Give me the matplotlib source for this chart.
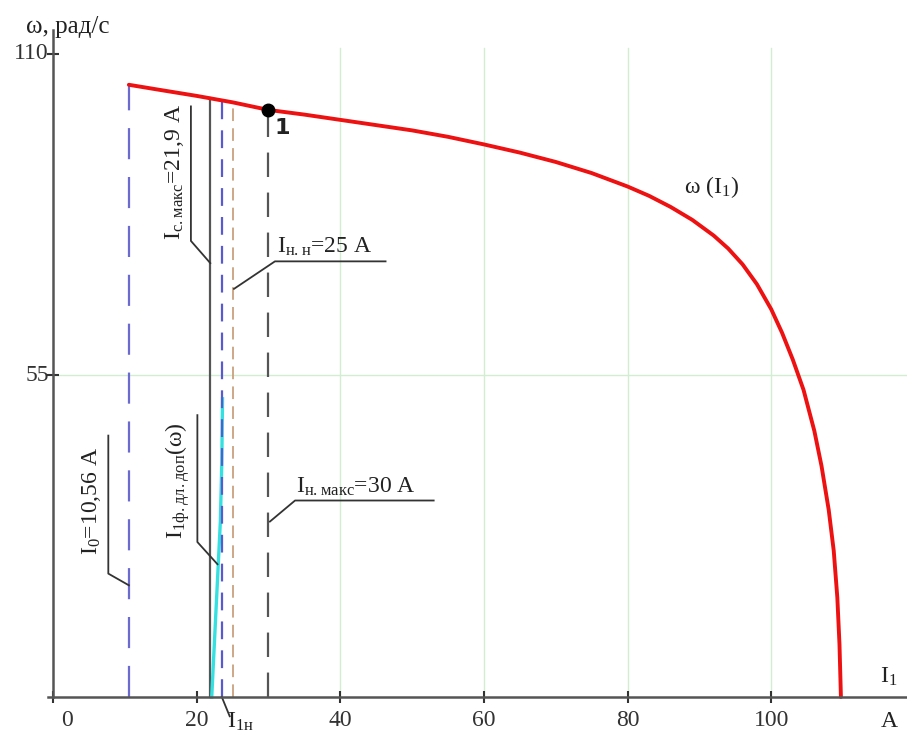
import numpy as np
import matplotlib
matplotlib.use("Agg")
import matplotlib.pyplot as plt

plt.rcParams['font.family'] = ['Liberation Serif', 'DejaVu Serif']
plt.rcParams['mathtext.fontset'] = 'custom'
plt.rcParams['mathtext.rm'] = 'Liberation Serif'

# omega(I1) curve
curve_i = [10.56, 15, 20, 25, 30, 35, 40, 45, 50, 55, 60, 65, 70, 75, 80, 83, 86, 89, 92, 94,
           96, 98, 100, 101.5, 103, 104.5, 106, 107, 108, 108.7, 109.2, 109.5, 109.7]
curve_w = [104.7, 103.8, 102.8, 101.7, 100.4, 99.6, 98.7, 97.8, 96.9, 95.8, 94.5, 93.1, 91.5, 89.6, 87.3, 85.7, 83.8, 81.6, 78.9, 76.7,
           74.0, 70.6, 66.3, 62.3, 57.7, 52.5, 45.5, 39.5, 32.0, 25.0, 17.0, 9.0, 0.0]

# permissible phase current curve (cyan)
cyan_i = [22.1, 22.5, 22.9, 23.3, 23.5, 23.6]
cyan_w = [0, 10, 20, 30, 40, 51]

# characteristic currents and where their lines meet the curve
i0, i0_top = 10.56, 104.7
ic, ic_top = 21.9, 102.5
i1n, i1n_top = 23.5, 102.1
inn, inn_top = 25.0, 102.0
inmax, inmax_top = 30.0, 100.4

xticks = [0, 20, 40, 60, 80, 100]
yticks = [55, 110]

fig = plt.figure(figsize=(9.07, 7.31), dpi=100)
ax = fig.add_axes([0, 0, 1, 1])
ax.set_xlim(-7.38, 118.9)
ax.set_ylim(-5.82, 119.2)

for s in ['top', 'right']:
    ax.spines[s].set_visible(False)
ax.spines['left'].set_position(('data', 0))
ax.spines['bottom'].set_position(('data', 0))
ax.spines['left'].set_bounds(0, 114.1)
ax.spines['bottom'].set_bounds(-0.7, 118.9)
for s in ['left', 'bottom']:
    ax.spines[s].set_color('#555555')
    ax.spines[s].set_linewidth(1.8)

ax.set_xticks(xticks)
ax.set_yticks(yticks)
ax.set_xticklabels([])
ax.set_yticklabels([])
ax.tick_params(direction='inout', length=9, width=1.5, color='#333333')
for x in xticks:
    ax.text(x + (2 if x == 0 else 0), -2.3, str(x), ha='center', va='top', fontsize=17, color='#333333')
ax.text(-0.6, 110, '110', ha='right', va='center', fontsize=17, color='#333333')
ax.text(-0.6, 55, '55', ha='right', va='center', fontsize=17, color='#333333')

# grid
for x in [40, 60, 80, 100]:
    ax.plot([x, x], [0, 111], color='#d2eed2', lw=1.0, zorder=0)
ax.plot([0, 118.9], [55, 55], color='#d2eed2', lw=1.0, zorder=0)

# vertical marker lines
ax.plot([i0, i0], [0, i0_top], color='#6a6ad0', lw=1.6, dashes=(14, 8))
ax.plot([ic, ic], [0, ic_top], color='#555555', lw=1.6)
ax.plot(cyan_i, cyan_w, color='#35e0e0', lw=2.4)
ax.plot([i1n, i1n], [0, i1n_top], color='#5a5ad0', lw=1.6, dashes=(8, 5))
ax.plot([inn, inn], [0, inn_top], color='#c9a17e', lw=1.3, dashes=(7, 4))
ax.plot([inmax, inmax], [0, inmax_top], color='#555555', lw=1.6, dashes=(11, 7))

# main curve
ax.plot(curve_i, curve_w, color='#ee1111', lw=2.8, solid_capstyle='round', solid_joinstyle='round')
ax.plot([inmax], [inmax_top], 'o', color='black', ms=9)
ax.text(inmax + 0.8, inmax_top - 1.3, '1', ha='left', va='top', fontsize=16, fontweight='bold', family='DejaVu Sans', color='#222222')

# leaders
lc = '#333333'
fs = 17
ax.plot([7.7, 7.7, i0], [44.7, 21.1, 19.1], color=lc, lw=1.3)
ax.text(7.0, 33.5, r'$\mathregular{I_{0}}$=10,56 A', rotation=90, ha='right', va='center', fontsize=fs, color='#222222')

ax.plot([19.2, 19.2, ic], [101.0, 78.0, 74.2], color=lc, lw=1.3)
ax.text(18.5, 89.8, r'$\mathregular{I_{с.макс}}$=21,9 A', rotation=90, ha='right', va='center', fontsize=fs, color='#222222')

ax.plot([inn + 0.2, 30.9, 46.3], [69.8, 74.5, 74.5], color=lc, lw=1.3)
ax.text(31.2, 75.0, r'$\mathregular{I_{н.н}}$=25 A', ha='left', va='bottom', fontsize=fs, color='#222222')

ax.plot([20.1, 20.1, 22.9], [48.2, 26.5, 22.7], color=lc, lw=1.3)
ax.text(19.4, 37.0, r'$\mathregular{I_{1ф.дл.доп}}$(ω)', rotation=90, ha='right', va='center', fontsize=fs, color='#222222')

ax.plot([inmax + 0.2, 33.7, 53.0], [30.0, 33.6, 33.6], color=lc, lw=1.3)
ax.text(33.8, 34.1, r'$\mathregular{I_{н.макс}}$=30 A', ha='left', va='bottom', fontsize=fs, color='#222222')

ax.plot([i1n, 24.6], [0, -3.3], color=lc, lw=1.3)
ax.text(24.2, -2.3, r'$\mathregular{I_{1н}}$', ha='left', va='top', fontsize=fs, color='#222222')

ax.text(87.8, 87.2, r'ω ($\mathregular{I_{1}}$)', ha='left', va='center', fontsize=17, color='#222222')
ax.text(-3.7, 114.6, 'ω, рад/с', ha='left', va='center', fontsize=18, color='#222222',
        bbox=dict(facecolor='none', edgecolor='none', pad=0))
ax.text(115.2, 1.5, r'$\mathregular{I_{1}}$', ha='left', va='bottom', fontsize=17, color='#222222')
ax.text(115.3, -2.4, 'A', ha='left', va='top', fontsize=17, color='#222222')

fig.savefig('out.png', dpi=100)
